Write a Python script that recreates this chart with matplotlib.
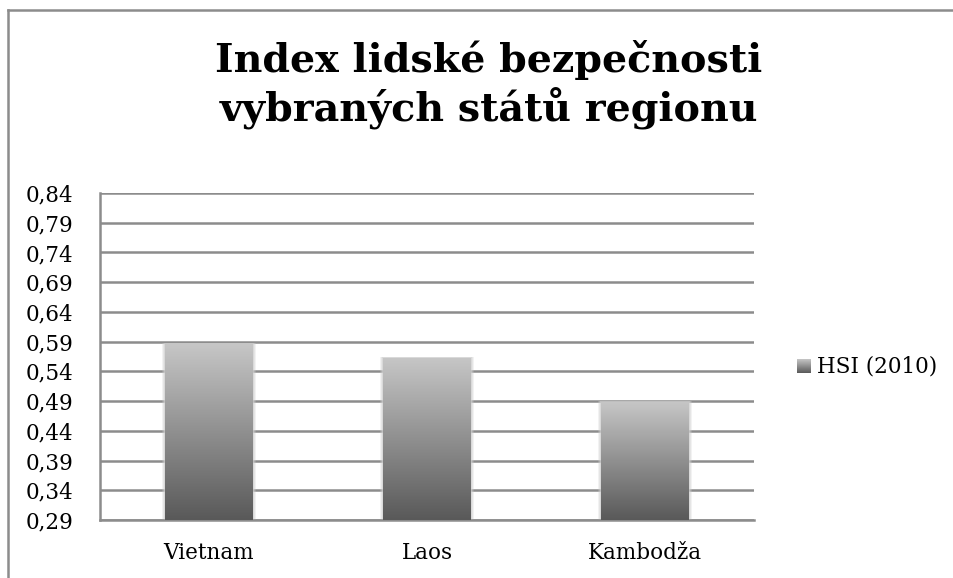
import numpy as np
import matplotlib.pyplot as plt
from matplotlib.colors import LinearSegmentedColormap
from matplotlib.lines import Line2D

countries = ["Vietnam", "Laos", "Kambodža"]
hsi_2010 = [0.586, 0.562, 0.488]
y_ticks = [0.29, 0.34, 0.39, 0.44, 0.49, 0.54, 0.59, 0.64, 0.69, 0.74, 0.79, 0.84]
title = "Index lidské bezpečnosti\nvybraných států regionu"
series_name = "HSI (2010)"

plt.rcParams["font.family"] = ["DejaVu Serif"]

W, H = 954, 578
fig = plt.figure(figsize=(W / 100, H / 100), dpi=100)
ax = fig.add_axes([100 / W, 1 - 520 / H, 654 / W, 327 / H])

grad = LinearSegmentedColormap.from_list("g", ["#595959", "#c6c6c6"])
gvals = np.linspace(0, 1, 256).reshape(-1, 1)
x = np.arange(len(countries))
width = 0.40
ymin = y_ticks[0]
bars = ax.bar(x, np.array(hsi_2010) - ymin, bottom=ymin, width=width,
              color="none", edgecolor="none", zorder=3)
for b in bars:
    x0, y0 = b.get_x(), b.get_y()
    w, h = b.get_width(), b.get_height()
    # soft shadow around the bar
    for k, a in [(0.03, 0.25), (0.02, 0.35), (0.01, 0.5)]:
        ax.bar(x0 + w / 2, h + 0.002, bottom=y0, width=w + k, color="#cfcfcf",
               edgecolor="none", zorder=2, alpha=a)
    ax.imshow(gvals, cmap=grad, aspect="auto", origin="lower",
              extent=[x0, x0 + w, ymin, y0 + h], zorder=3)

ax.set_xlim(-0.5, len(countries) - 0.5)
ax.set_ylim(ymin, y_ticks[-1])
ax.set_yticks(y_ticks)
ax.set_yticklabels([f"{v:.2f}".replace(".", ",") for v in y_ticks], fontsize=15.5)
ax.set_xticks(x)
ax.set_xticklabels(countries, fontsize=15.5)
ax.tick_params(axis="y", length=0, pad=19)
ax.tick_params(axis="x", length=0, pad=16)
ax.yaxis.grid(True, color="#8c8c8c", linewidth=1.8, zorder=1)
ax.set_axisbelow(True)
for s in ["top", "right"]:
    ax.spines[s].set_visible(False)
for s in ["left", "bottom"]:
    ax.spines[s].set_color("#8c8c8c")
    ax.spines[s].set_linewidth(1.8)

fig.text(489 / W, 1 - 85 / H, title, ha="center", va="center", ma="center",
         fontsize=28.5, fontweight="bold", linespacing=1.2)

# legend: gradient square + label
lax = fig.add_axes([797 / W, 1 - 373 / H, 14 / W, 14 / H])
lax.imshow(gvals, cmap=grad, aspect="auto", origin="lower")
lax.set_axis_off()
fig.text(817 / W, 1 - 366 / H, series_name, ha="left", va="center", fontsize=15.5)

# chart frame (left and top edges visible)
fig.add_artist(Line2D([8 / W, 8 / W], [0, 1 - 10 / H], color="#8c8c8c",
                      linewidth=1.8, transform=fig.transFigure))
fig.add_artist(Line2D([8 / W, 1], [1 - 10 / H, 1 - 10 / H], color="#8c8c8c",
                      linewidth=1.8, transform=fig.transFigure))

fig.savefig("out.png", dpi=100)
